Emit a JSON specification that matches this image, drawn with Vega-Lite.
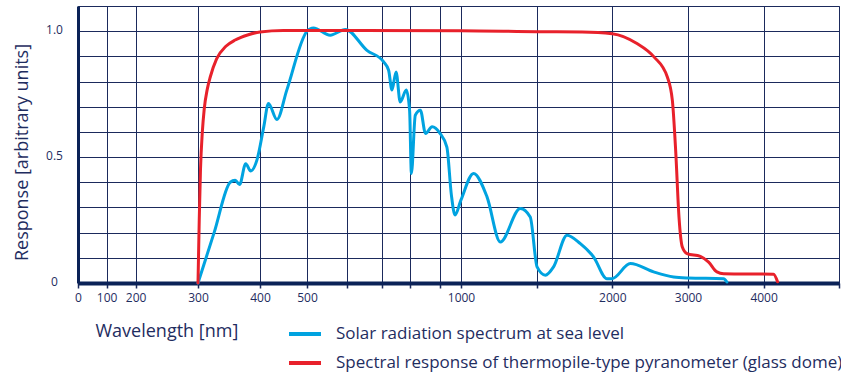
{
  "$schema": "https://vega.github.io/schema/vega-lite/v6.json",
  "width": 761,
  "height": 277,
  "autosize": {"type": "none"},
  "padding": {"left": 78, "top": 6, "right": 2, "bottom": 97},
  "background": "white",
  "config": {
    "font": "Open Sans",
    "view": {"stroke": "#1B2A5C", "strokeWidth": 1},
    "axis": {"labelColor": "#1F2D5F", "titleColor": "#1F2D5F", "labelFont": "Open Sans", "titleFont": "Open Sans"},
    "legend": {"labelColor": "#1F2D5F", "labelFont": "Open Sans"}
  },
  "data": {
    "values": [
      {"w": 300, "r": 0, "s": "Solar radiation spectrum at sea level"},
      {"w": 326, "r": 0.2, "s": "Solar radiation spectrum at sea level"},
      {"w": 352, "r": 0.40, "s": "Solar radiation spectrum at sea level"},
      {"w": 360, "r": 0.408, "s": "Solar radiation spectrum at sea level"},
      {"w": 367, "r": 0.391, "s": "Solar radiation spectrum at sea level"},
      {"w": 377, "r": 0.474, "s": "Solar radiation spectrum at sea level"},
      {"w": 385, "r": 0.445, "s": "Solar radiation spectrum at sea level"},
      {"w": 395, "r": 0.488, "s": "Solar radiation spectrum at sea level"},
      {"w": 408, "r": 0.62, "s": "Solar radiation spectrum at sea level"},
      {"w": 418, "r": 0.713, "s": "Solar radiation spectrum at sea level"},
      {"w": 436, "r": 0.649, "s": "Solar radiation spectrum at sea level"},
      {"w": 457, "r": 0.766, "s": "Solar radiation spectrum at sea level"},
      {"w": 500, "r": 1.0, "s": "Solar radiation spectrum at sea level"},
      {"w": 516, "r": 1.013, "s": "Solar radiation spectrum at sea level"},
      {"w": 558, "r": 0.984, "s": "Solar radiation spectrum at sea level"},
      {"w": 596, "r": 1.007, "s": "Solar radiation spectrum at sea level"},
      {"w": 657, "r": 0.924, "s": "Solar radiation spectrum at sea level"},
      {"w": 706, "r": 0.878, "s": "Solar radiation spectrum at sea level"},
      {"w": 724, "r": 0.845, "s": "Solar radiation spectrum at sea level"},
      {"w": 736, "r": 0.766, "s": "Solar radiation spectrum at sea level"},
      {"w": 751, "r": 0.838, "s": "Solar radiation spectrum at sea level"},
      {"w": 766, "r": 0.719, "s": "Solar radiation spectrum at sea level"},
      {"w": 788, "r": 0.766, "s": "Solar radiation spectrum at sea level"},
      {"w": 800, "r": 0.686, "s": "Solar radiation spectrum at sea level"},
      {"w": 806, "r": 0.435, "s": "Solar radiation spectrum at sea level"},
      {"w": 819, "r": 0.666, "s": "Solar radiation spectrum at sea level"},
      {"w": 836, "r": 0.686, "s": "Solar radiation spectrum at sea level"},
      {"w": 853, "r": 0.594, "s": "Solar radiation spectrum at sea level"},
      {"w": 875, "r": 0.62, "s": "Solar radiation spectrum at sea level"},
      {"w": 902, "r": 0.594, "s": "Solar radiation spectrum at sea level"},
      {"w": 934, "r": 0.54, "s": "Solar radiation spectrum at sea level"},
      {"w": 955, "r": 0.35, "s": "Solar radiation spectrum at sea level"},
      {"w": 972, "r": 0.27, "s": "Solar radiation spectrum at sea level"},
      {"w": 1000, "r": 0.33, "s": "Solar radiation spectrum at sea level"},
      {"w": 1083, "r": 0.435, "s": "Solar radiation spectrum at sea level"},
      {"w": 1172, "r": 0.342, "s": "Solar radiation spectrum at sea level"},
      {"w": 1260, "r": 0.163, "s": "Solar radiation spectrum at sea level"},
      {"w": 1392, "r": 0.296, "s": "Solar radiation spectrum at sea level"},
      {"w": 1458, "r": 0.262, "s": "Solar radiation spectrum at sea level"},
      {"w": 1503, "r": 0.064, "s": "Solar radiation spectrum at sea level"},
      {"w": 1558, "r": 0.031, "s": "Solar radiation spectrum at sea level"},
      {"w": 1612, "r": 0.064, "s": "Solar radiation spectrum at sea level"},
      {"w": 1701, "r": 0.19, "s": "Solar radiation spectrum at sea level"},
      {"w": 1789, "r": 0.156, "s": "Solar radiation spectrum at sea level"},
      {"w": 1877, "r": 0.103, "s": "Solar radiation spectrum at sea level"},
      {"w": 1965, "r": 0.017, "s": "Solar radiation spectrum at sea level"},
      {"w": 1998, "r": 0.017, "s": "Solar radiation spectrum at sea level"},
      {"w": 2238, "r": 0.077, "s": "Solar radiation spectrum at sea level"},
      {"w": 2546, "r": 0.044, "s": "Solar radiation spectrum at sea level"},
      {"w": 2810, "r": 0.024, "s": "Solar radiation spectrum at sea level"},
      {"w": 3000, "r": 0.02, "s": "Solar radiation spectrum at sea level"},
      {"w": 3471, "r": 0.017, "s": "Solar radiation spectrum at sea level"},
      {"w": 3515, "r": 0.004, "s": "Solar radiation spectrum at sea level"},
      {"w": 300, "r": 0, "s": "Spectral response of thermopile-type pyranometer (glass dome)"},
      {"w": 302, "r": 0.25, "s": "Spectral response of thermopile-type pyranometer (glass dome)"},
      {"w": 304, "r": 0.45, "s": "Spectral response of thermopile-type pyranometer (glass dome)"},
      {"w": 307, "r": 0.6, "s": "Spectral response of thermopile-type pyranometer (glass dome)"},
      {"w": 310, "r": 0.69, "s": "Spectral response of thermopile-type pyranometer (glass dome)"},
      {"w": 315, "r": 0.77, "s": "Spectral response of thermopile-type pyranometer (glass dome)"},
      {"w": 320, "r": 0.82, "s": "Spectral response of thermopile-type pyranometer (glass dome)"},
      {"w": 330, "r": 0.89, "s": "Spectral response of thermopile-type pyranometer (glass dome)"},
      {"w": 345, "r": 0.94, "s": "Spectral response of thermopile-type pyranometer (glass dome)"},
      {"w": 360, "r": 0.965, "s": "Spectral response of thermopile-type pyranometer (glass dome)"},
      {"w": 380, "r": 0.985, "s": "Spectral response of thermopile-type pyranometer (glass dome)"},
      {"w": 400, "r": 0.997, "s": "Spectral response of thermopile-type pyranometer (glass dome)"},
      {"w": 450, "r": 1.003, "s": "Spectral response of thermopile-type pyranometer (glass dome)"},
      {"w": 1000, "r": 1.002, "s": "Spectral response of thermopile-type pyranometer (glass dome)"},
      {"w": 1500, "r": 0.998, "s": "Spectral response of thermopile-type pyranometer (glass dome)"},
      {"w": 1800, "r": 0.997, "s": "Spectral response of thermopile-type pyranometer (glass dome)"},
      {"w": 2000, "r": 0.99, "s": "Spectral response of thermopile-type pyranometer (glass dome)"},
      {"w": 2326, "r": 0.951, "s": "Spectral response of thermopile-type pyranometer (glass dome)"},
      {"w": 2550, "r": 0.898, "s": "Spectral response of thermopile-type pyranometer (glass dome)"},
      {"w": 2727, "r": 0.818, "s": "Spectral response of thermopile-type pyranometer (glass dome)"},
      {"w": 2793, "r": 0.726, "s": "Spectral response of thermopile-type pyranometer (glass dome)"},
      {"w": 2837, "r": 0.527, "s": "Spectral response of thermopile-type pyranometer (glass dome)"},
      {"w": 2881, "r": 0.262, "s": "Spectral response of thermopile-type pyranometer (glass dome)"},
      {"w": 2925, "r": 0.143, "s": "Spectral response of thermopile-type pyranometer (glass dome)"},
      {"w": 2987, "r": 0.117, "s": "Spectral response of thermopile-type pyranometer (glass dome)"},
      {"w": 3163, "r": 0.106, "s": "Spectral response of thermopile-type pyranometer (glass dome)"},
      {"w": 3273, "r": 0.083, "s": "Spectral response of thermopile-type pyranometer (glass dome)"},
      {"w": 3383, "r": 0.044, "s": "Spectral response of thermopile-type pyranometer (glass dome)"},
      {"w": 3471, "r": 0.037, "s": "Spectral response of thermopile-type pyranometer (glass dome)"},
      {"w": 4132, "r": 0.035, "s": "Spectral response of thermopile-type pyranometer (glass dome)"},
      {"w": 4185, "r": 0.005, "s": "Spectral response of thermopile-type pyranometer (glass dome)"}
    ]
  },
  "mark": {"type": "line", "interpolate": "monotone", "strokeWidth": 3, "strokeCap": "round"},
  "encoding": {
    "x": {
      "field": "w",
      "type": "quantitative",
      "scale": {
        "type": "linear",
        "domain": [0, 100, 200, 300, 400, 500, 600, 700, 800, 900, 1000, 1500, 2000, 3000, 4000, 5000],
        "range": [0, 28.6, 57.6, 120, 182, 229, 269, 304, 331.6, 361.6, 383, 458.6, 534.3, 610, 685.6, 761],
        "nice": false,
        "zero": false
      },
      "axis": {
        "values": [0, 100, 200, 300, 400, 500, 600, 700, 800, 900, 1000, 1500, 2000, 3000, 4000, 5000],
        "labelExpr": "indexof([0,100,200,300,400,500,1000,2000,3000,4000], datum.value) >= 0 ? '' + datum.value : ''",
        "labelFontSize": 12,
        "labelPadding": 4,
        "labelAngle": 0,
        "labelAlign": "center",
        "labelFlush": false,
        "labelOverlap": false,
        "tickSize": 5,
        "tickColor": "#1B2A5C",
        "tickWidth": 1.5,
        "domainColor": "#0B2257",
        "domainWidth": 4,
        "gridColor": "#1B2A5C",
        "gridWidth": 1,
        "gridOpacity": 1,
        "title": "Wavelength [nm]",
        "titleFontSize": 18,
        "titleFontWeight": "normal",
        "titleAnchor": "start",
        "titleAlign": "left",
        "titleBaseline": "middle",
        "titleX": 17,
        "titleY": 48
      }
    },
    "y": {
      "field": "r",
      "type": "quantitative",
      "scale": {"domain": [0, 1.1], "nice": false},
      "axis": {
        "values": [0, 0.1, 0.2, 0.3, 0.4, 0.5, 0.6, 0.7, 0.8, 0.9, 1.0],
        "labelExpr": "datum.value == 0 ? '0' : datum.value == 0.5 ? '0.5' : datum.value == 1 ? '1.0' : ''",
        "labelFontSize": 12,
        "labelAlign": "center",
        "labelBaseline": "middle",
        "labelPadding": 24,
        "labelOffset": -2,
        "ticks": false,
        "tickSize": 0,
        "domainColor": "#0B2257",
        "domainWidth": 3,
        "gridColor": "#1B2A5C",
        "gridWidth": 1,
        "gridOpacity": 1,
        "title": "Response [arbitrary units]",
        "titleFontSize": 18,
        "titleFontWeight": "normal",
        "titleAngle": -90,
        "titleAlign": "center",
        "titleBaseline": "middle",
        "titleX": -56,
        "titleY": 146
      }
    },
    "color": {
      "field": "s",
      "type": "nominal",
      "scale": {
        "domain": ["Solar radiation spectrum at sea level", "Spectral response of thermopile-type pyranometer (glass dome)"],
        "range": ["#00A3E0", "#E8212B"]
      },
      "legend": {
        "title": null,
        "orient": "none",
        "legendX": 209,
        "legendY": 310,
        "direction": "vertical",
        "symbolType": "stroke",
        "symbolSize": 1024,
        "symbolStrokeWidth": 4,
        "labelFontSize": 17,
        "labelOffset": 13,
        "labelLimit": 600,
        "rowPadding": 3,
        "padding": 0
      }
    }
  }
}
